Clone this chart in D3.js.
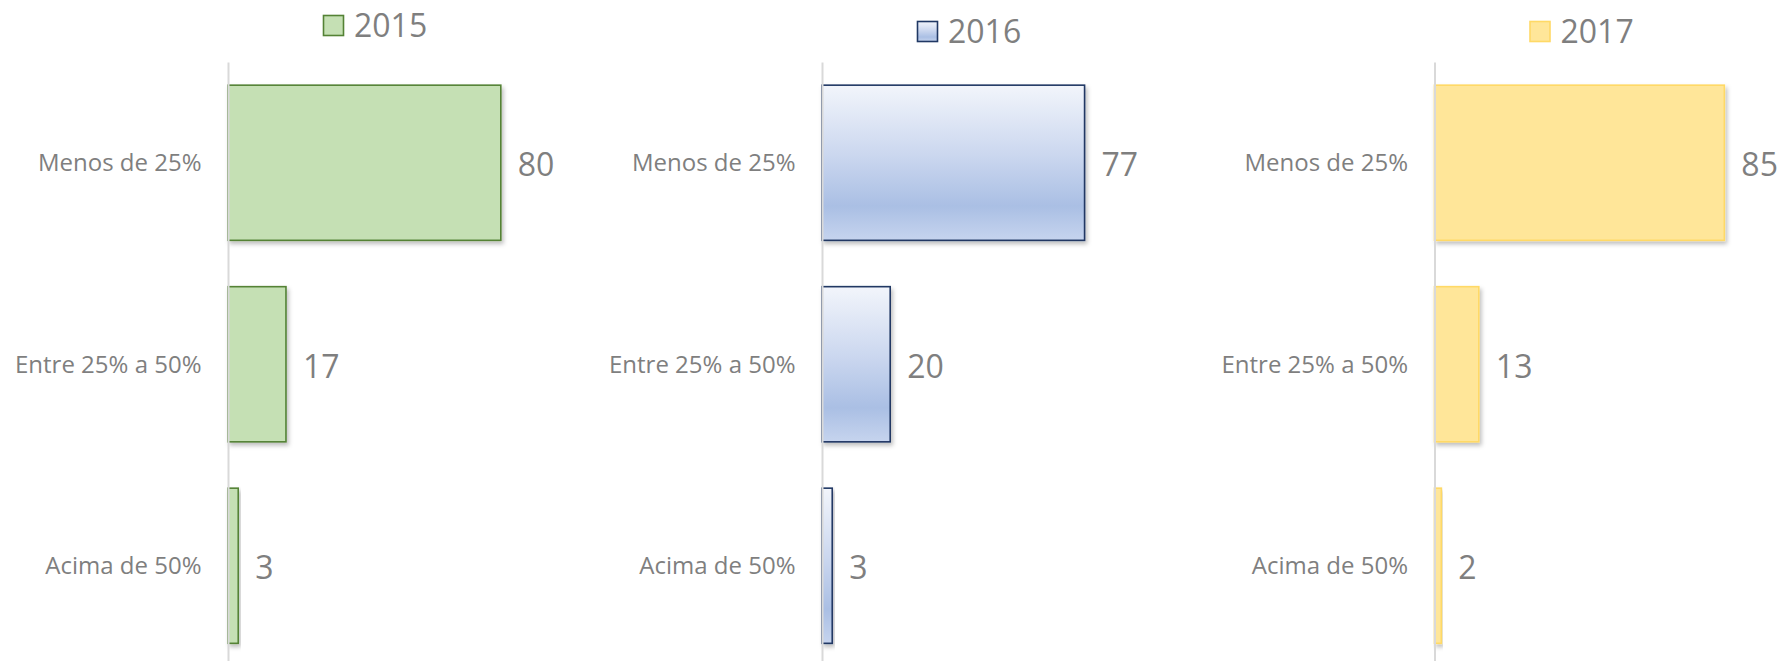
<!DOCTYPE html>
<html>
<head>
<meta charset="utf-8">
<script src="https://cdn.jsdelivr.net/npm/d3@7"></script>
<style>
  html, body { margin: 0; padding: 0; background: #fff; }
  svg { display: block; }
  text { font-family: "Open Sans", sans-serif; fill: #7f7f7f; }
</style>
</head>
<body>
<svg id="chart" width="1781" height="661"></svg>
<script>
// three small bar charts side by side, one per year

const categories = ["Menos de 25%", "Entre 25% a 50%", "Acima de 50%"];
const years = ["2015", "2016", "2017"];
const values2015 = [80, 17, 3];
const values2016 = [77, 20, 3];
const values2017 = [85, 13, 2];

const allValues = [values2015, values2016, values2017];

// where each panel's axis line sits and how its legend sits
const panelX = [228, 822, 1434.5];
const legendY = [15, 21, 21];

const svg = d3.select("#chart");
const defs = svg.append("defs");

// blue gradient for 2016
const grad = defs.append("linearGradient")
    .attr("id", "blueGrad")
    .attr("x1", 0).attr("y1", 0).attr("x2", 0).attr("y2", 1);
grad.append("stop").attr("offset", "0%").attr("stop-color", "#f2f5fb");
grad.append("stop").attr("offset", "45%").attr("stop-color", "#cbd7ef");
grad.append("stop").attr("offset", "78%").attr("stop-color", "#aabfe4");
grad.append("stop").attr("offset", "100%").attr("stop-color", "#c6d4ee");

const shadow = defs.append("filter")
    .attr("id", "shadow")
    .attr("x", "-20%").attr("y", "-20%").attr("width", "140%").attr("height", "140%");
shadow.append("feDropShadow")
    .attr("dx", 2).attr("dy", 3)
    .attr("stdDeviation", 2)
    .attr("flood-color", "#000")
    .attr("flood-opacity", 0.25);

const styles = [
    { fill: "#c5e0b4", stroke: "#548235" },
    { fill: "url(#blueGrad)", stroke: "#203864" },
    { fill: "#ffe699", stroke: "#ffd966" }
];

const xScale = d3.scaleLinear().domain([0, 100]).range([0, 341]);

const yScale = d3.scaleBand()
    .domain(categories)
    .range([62, 666.5])
    .paddingInner(0.23)
    .paddingOuter(0.115);

for (let p = 0; p < years.length; p++)
{
    const g = svg.append("g")
        .attr("transform", "translate(" + panelX[p] + ",0)");

    const rows = categories.map((c, i) => ({ cat: c, val: allValues[p][i] }));

    // bars
    g.selectAll("rect.bar")
        .data(rows)
        .join("rect")
        .attr("class", "bar")
        .attr("x", xScale(0))
        .attr("y", d => yScale(d.cat))
        .attr("width", d => xScale(d.val) - xScale(0))
        .attr("height", yScale.bandwidth())
        .attr("fill", styles[p].fill)
        .attr("stroke", styles[p].stroke)
        .attr("stroke-width", 1.6)
        .attr("filter", "url(#shadow)");

    // axis line (no ticks)
    const axis = g.append("g")
        .call(d3.axisLeft(yScale).tickSize(0).tickPadding(26.5));
    axis.select(".domain")
        .attr("stroke", "#d9d9d9")
        .attr("stroke-width", 2);
    axis.selectAll(".tick text")
        .attr("font-family", "Open Sans, sans-serif")
        .attr("font-size", 24)
        .attr("fill", "#7f7f7f")
        .attr("dy", "0.36em");

    // value labels
    g.selectAll("text.val")
        .data(rows)
        .join("text")
        .attr("class", "val")
        .attr("x", d => xScale(d.val) + 17)
        .attr("y", d => yScale(d.cat) + yScale.bandwidth() / 2)
        .attr("dy", "0.42em")
        .attr("font-size", 32)
        .text(d => d.val);

    // legend
    const lg = g.append("g")
        .attr("transform", "translate(95," + legendY[p] + ")");
    lg.append("rect")
        .attr("x", 0.5).attr("y", 0.5)
        .attr("width", 20).attr("height", 20)
        .attr("fill", styles[p].fill)
        .attr("stroke", styles[p].stroke)
        .attr("stroke-width", 1.6);
    lg.append("text")
        .attr("x", 31)
        .attr("y", 22)
        .attr("font-size", 32)
        .text(years[p]);
}
</script>
</body>
</html>
